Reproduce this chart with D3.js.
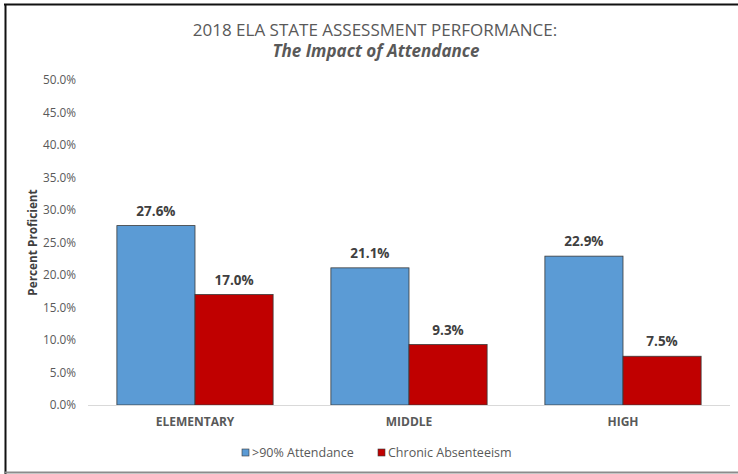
<!DOCTYPE html>
<html>
<head>
<meta charset="utf-8">
<script src="https://cdn.jsdelivr.net/npm/d3@7"></script>
<style>
    body { margin: 0; background: #fff; }
    text { font-family: "Open Sans", sans-serif; }
</style>
</head>
<body>
<svg width="738" height="474"></svg>
<script>
    var categories = ["ELEMENTARY", "MIDDLE", "HIGH"];
    var seriesNames = [">90% Attendance", "Chronic Absenteeism"];
    var attendance = [27.6, 21.1, 22.9];
    var absenteeism = [17.0, 9.3, 7.5];
    var yTicks = [0, 5, 10, 15, 20, 25, 30, 35, 40, 45, 50];
    var colors = ["#5b9bd5", "#c00000"];

    var svg = d3.select("svg"),
        margin = {top: 80, right: 8, bottom: 69, left: 88},
        width = +svg.attr("width") - margin.left - margin.right,
        height = +svg.attr("height") - margin.top - margin.bottom;

    // frame
    svg.append("line").attr("x1", 4).attr("x2", 738).attr("y1", 4.5).attr("y2", 4.5)
        .attr("stroke", "#111").attr("stroke-width", 2);
    svg.append("line").attr("x1", 5.5).attr("x2", 5.5).attr("y1", 4).attr("y2", 474)
        .attr("stroke", "#111").attr("stroke-width", 2);
    svg.append("line").attr("x1", 5).attr("x2", 738).attr("y1", 472.5).attr("y2", 472.5)
        .attr("stroke", "#8c8c8c").attr("stroke-width", 2);

    svg.append("text").attr("x", 375).attr("y", 36).attr("text-anchor", "middle")
        .attr("font-size", 17).attr("fill", "#595959")
        .text("2018 ELA STATE ASSESSMENT PERFORMANCE:");
    svg.append("text").attr("x", 376).attr("y", 57).attr("text-anchor", "middle")
        .attr("font-size", 17).attr("font-weight", "bold").attr("font-style", "italic")
        .attr("fill", "#595959")
        .text("The Impact of Attendance");

    var g = svg.append("g").attr("transform", "translate(" + margin.left + "," + margin.top + ")");

    var x0 = d3.scaleBand().domain(categories).range([0, width]).paddingInner(0).paddingOuter(0);
    var x1 = d3.scaleBand().domain(seriesNames).range([0, x0.bandwidth() * 0.73])
        .paddingInner(0).paddingOuter(0);
    var groupOffset = x0.bandwidth() * (1 - 0.73) / 2;
    var y = d3.scaleLinear().domain([0, 50]).range([height, 0]);

    var yAxis = g.append("g")
        .call(d3.axisLeft(y).tickValues(yTicks).tickSize(0).tickPadding(12)
            .tickFormat(function(d) { return d.toFixed(1) + "%"; }));
    yAxis.select(".domain").remove();
    yAxis.selectAll("text").attr("font-size", 11.8).attr("fill", "#595959")
        .attr("font-family", "Open Sans, sans-serif");

    var rows = categories.map(function(c, i) {
        return {cat: c, values: [attendance[i], absenteeism[i]]};
    });

    var groups = g.selectAll(".grp").data(rows).enter().append("g")
        .attr("transform", function(d) { return "translate(" + (x0(d.cat) + groupOffset) + ",0)"; });

    groups.selectAll("rect").data(function(d) {
        return d.values.map(function(v, j) { return {name: seriesNames[j], value: v, j: j}; });
    }).enter().append("rect")
        .attr("x", function(d) { return x1(d.name); })
        .attr("y", function(d) { return y(d.value); })
        .attr("width", x1.bandwidth())
        .attr("height", function(d) { return height - y(d.value); })
        .attr("fill", function(d) { return colors[d.j]; })
        .attr("stroke", "#3a3a3a").attr("stroke-width", 0.8);

    groups.selectAll(".lbl").data(function(d) {
        return d.values.map(function(v, j) { return {name: seriesNames[j], value: v}; });
    }).enter().append("text")
        .attr("x", function(d) { return x1(d.name) + x1.bandwidth() / 2; })
        .attr("y", function(d) { return y(d.value) - 10; })
        .attr("text-anchor", "middle").attr("font-size", 13.5).attr("font-weight", "bold")
        .attr("fill", "#404040")
        .text(function(d) { return d.value.toFixed(1) + "%"; });

    // baseline
    g.append("line").attr("x1", 0).attr("x2", width).attr("y1", height + 0.5).attr("y2", height + 0.5)
        .attr("stroke", "#d9d9d9").attr("stroke-width", 1);

    var xAxis = g.append("g").attr("transform", "translate(0," + height + ")")
        .call(d3.axisBottom(x0).tickSize(0).tickPadding(12));
    xAxis.select(".domain").remove();
    xAxis.selectAll("text").attr("font-size", 12).attr("font-weight", "bold").attr("fill", "#595959")
        .attr("font-family", "Open Sans, sans-serif");

    svg.append("text").attr("transform", "translate(37," + (margin.top + y(25)) + ") rotate(-90)")
        .attr("text-anchor", "middle").attr("font-size", 11.8).attr("font-weight", "bold")
        .attr("fill", "#404040").text("Percent Proficient");

    // legend
    var legendX = [242, 378];
    var legend = svg.selectAll(".leg").data(seriesNames).enter().append("g")
        .attr("transform", function(d, i) { return "translate(" + legendX[i] + ",449)"; });
    legend.append("rect").attr("width", 7).attr("height", 7)
        .attr("fill", function(d, i) { return colors[i]; })
        .attr("stroke", "#3a3a3a").attr("stroke-width", 0.6);
    legend.append("text").attr("x", 10).attr("y", 8).attr("font-size", 12.5)
        .attr("fill", "#595959").text(function(d) { return d; });
</script>
</body>
</html>
